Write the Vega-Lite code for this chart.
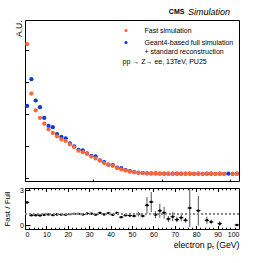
{
  "$schema": "https://vega.github.io/schema/vega-lite/v6.json",
  "padding": {"left": 3, "top": 7, "right": 0, "bottom": 0},
  "spacing": 3,
  "background": "white",
  "config": {
    "view": {"stroke": "black", "strokeWidth": 1},
    "font": "Liberation Sans",
    "axis": {"domain": false, "grid": false, "tickColor": "black", "tickWidth": 1, "labelColor": "black", "titleColor": "black", "labelFont": "Liberation Sans", "titleFont": "Liberation Sans", "titleFontWeight": "normal", "labelOverlap": false}
  },
  "datasets": {
    "main": [
      {"pt": 1, "sim": "Geant4-based full simulation", "y": 4.27},
      {"pt": 3, "sim": "Geant4-based full simulation", "y": 5.94},
      {"pt": 5, "sim": "Geant4-based full simulation", "y": 4.61},
      {"pt": 7, "sim": "Geant4-based full simulation", "y": 4.19},
      {"pt": 9, "sim": "Geant4-based full simulation", "y": 3.52},
      {"pt": 11, "sim": "Geant4-based full simulation", "y": 3.02},
      {"pt": 13, "sim": "Geant4-based full simulation", "y": 2.94},
      {"pt": 15, "sim": "Geant4-based full simulation", "y": 2.51},
      {"pt": 17, "sim": "Geant4-based full simulation", "y": 2.33},
      {"pt": 19, "sim": "Geant4-based full simulation", "y": 2.25},
      {"pt": 21, "sim": "Geant4-based full simulation", "y": 1.93},
      {"pt": 23, "sim": "Geant4-based full simulation", "y": 1.74},
      {"pt": 25, "sim": "Geant4-based full simulation", "y": 1.53},
      {"pt": 27, "sim": "Geant4-based full simulation", "y": 1.5},
      {"pt": 29, "sim": "Geant4-based full simulation", "y": 1.3},
      {"pt": 31, "sim": "Geant4-based full simulation", "y": 1.15},
      {"pt": 33, "sim": "Geant4-based full simulation", "y": 1.12},
      {"pt": 35, "sim": "Geant4-based full simulation", "y": 0.87},
      {"pt": 37, "sim": "Geant4-based full simulation", "y": 0.76},
      {"pt": 39, "sim": "Geant4-based full simulation", "y": 0.6},
      {"pt": 41, "sim": "Geant4-based full simulation", "y": 0.58},
      {"pt": 43, "sim": "Geant4-based full simulation", "y": 0.42},
      {"pt": 45, "sim": "Geant4-based full simulation", "y": 0.38},
      {"pt": 47, "sim": "Geant4-based full simulation", "y": 0.26},
      {"pt": 49, "sim": "Geant4-based full simulation", "y": 0.19},
      {"pt": 51, "sim": "Geant4-based full simulation", "y": 0.14},
      {"pt": 53, "sim": "Geant4-based full simulation", "y": 0.1},
      {"pt": 55, "sim": "Geant4-based full simulation", "y": 0.08},
      {"pt": 57, "sim": "Geant4-based full simulation", "y": 0.06},
      {"pt": 59, "sim": "Geant4-based full simulation", "y": 0.05},
      {"pt": 61, "sim": "Geant4-based full simulation", "y": 0.05},
      {"pt": 63, "sim": "Geant4-based full simulation", "y": 0.045},
      {"pt": 65, "sim": "Geant4-based full simulation", "y": 0.04},
      {"pt": 67, "sim": "Geant4-based full simulation", "y": 0.04},
      {"pt": 69, "sim": "Geant4-based full simulation", "y": 0.04},
      {"pt": 71, "sim": "Geant4-based full simulation", "y": 0.04},
      {"pt": 73, "sim": "Geant4-based full simulation", "y": 0.035},
      {"pt": 75, "sim": "Geant4-based full simulation", "y": 0.035},
      {"pt": 77, "sim": "Geant4-based full simulation", "y": 0.035},
      {"pt": 79, "sim": "Geant4-based full simulation", "y": 0.03},
      {"pt": 81, "sim": "Geant4-based full simulation", "y": 0.035},
      {"pt": 83, "sim": "Geant4-based full simulation", "y": 0.03},
      {"pt": 85, "sim": "Geant4-based full simulation", "y": 0.035},
      {"pt": 87, "sim": "Geant4-based full simulation", "y": 0.035},
      {"pt": 89, "sim": "Geant4-based full simulation", "y": 0.03},
      {"pt": 91, "sim": "Geant4-based full simulation", "y": 0.035},
      {"pt": 93, "sim": "Geant4-based full simulation", "y": 0.03},
      {"pt": 95, "sim": "Geant4-based full simulation", "y": 0.04},
      {"pt": 97, "sim": "Geant4-based full simulation", "y": 0.03},
      {"pt": 99, "sim": "Geant4-based full simulation", "y": 0.035},
      {"pt": 1, "sim": "Fast simulation", "y": 8.14},
      {"pt": 3, "sim": "Fast simulation", "y": 5.04},
      {"pt": 5, "sim": "Fast simulation", "y": 4.0},
      {"pt": 7, "sim": "Fast simulation", "y": 3.52},
      {"pt": 9, "sim": "Fast simulation", "y": 3.16},
      {"pt": 11, "sim": "Fast simulation", "y": 2.81},
      {"pt": 13, "sim": "Fast simulation", "y": 2.58},
      {"pt": 15, "sim": "Fast simulation", "y": 2.37},
      {"pt": 17, "sim": "Fast simulation", "y": 2.18},
      {"pt": 19, "sim": "Fast simulation", "y": 2.08},
      {"pt": 21, "sim": "Fast simulation", "y": 1.87},
      {"pt": 23, "sim": "Fast simulation", "y": 1.7},
      {"pt": 25, "sim": "Fast simulation", "y": 1.47},
      {"pt": 27, "sim": "Fast simulation", "y": 1.38},
      {"pt": 29, "sim": "Fast simulation", "y": 1.28},
      {"pt": 31, "sim": "Fast simulation", "y": 1.11},
      {"pt": 33, "sim": "Fast simulation", "y": 0.99},
      {"pt": 35, "sim": "Fast simulation", "y": 0.86},
      {"pt": 37, "sim": "Fast simulation", "y": 0.7},
      {"pt": 39, "sim": "Fast simulation", "y": 0.61},
      {"pt": 41, "sim": "Fast simulation", "y": 0.52},
      {"pt": 43, "sim": "Fast simulation", "y": 0.39},
      {"pt": 45, "sim": "Fast simulation", "y": 0.3},
      {"pt": 47, "sim": "Fast simulation", "y": 0.23},
      {"pt": 49, "sim": "Fast simulation", "y": 0.16},
      {"pt": 51, "sim": "Fast simulation", "y": 0.12},
      {"pt": 53, "sim": "Fast simulation", "y": 0.095},
      {"pt": 55, "sim": "Fast simulation", "y": 0.07},
      {"pt": 57, "sim": "Fast simulation", "y": 0.06},
      {"pt": 59, "sim": "Fast simulation", "y": 0.055},
      {"pt": 61, "sim": "Fast simulation", "y": 0.05},
      {"pt": 63, "sim": "Fast simulation", "y": 0.045},
      {"pt": 65, "sim": "Fast simulation", "y": 0.04},
      {"pt": 67, "sim": "Fast simulation", "y": 0.035},
      {"pt": 69, "sim": "Fast simulation", "y": 0.035},
      {"pt": 71, "sim": "Fast simulation", "y": 0.03},
      {"pt": 73, "sim": "Fast simulation", "y": 0.03},
      {"pt": 75, "sim": "Fast simulation", "y": 0.03},
      {"pt": 77, "sim": "Fast simulation", "y": 0.035},
      {"pt": 79, "sim": "Fast simulation", "y": 0.03},
      {"pt": 81, "sim": "Fast simulation", "y": 0.035},
      {"pt": 83, "sim": "Fast simulation", "y": 0.03},
      {"pt": 85, "sim": "Fast simulation", "y": 0.03},
      {"pt": 87, "sim": "Fast simulation", "y": 0.03},
      {"pt": 89, "sim": "Fast simulation", "y": 0.03},
      {"pt": 91, "sim": "Fast simulation", "y": 0.03},
      {"pt": 93, "sim": "Fast simulation", "y": 0.03},
      {"pt": 97, "sim": "Fast simulation", "y": 0.03},
      {"pt": 99, "sim": "Fast simulation", "y": 0.03}
    ],
    "ratio": [
      {"pt": 1, "lo_pt": 0, "hi_pt": 2, "r": 1.95, "lo": 1.88, "hi": 2.02},
      {"pt": 3, "lo_pt": 2, "hi_pt": 4, "r": 0.86, "lo": 0.83, "hi": 0.89},
      {"pt": 5, "lo_pt": 4, "hi_pt": 6, "r": 0.86, "lo": 0.83, "hi": 0.89},
      {"pt": 7, "lo_pt": 6, "hi_pt": 8, "r": 0.84, "lo": 0.81, "hi": 0.87},
      {"pt": 9, "lo_pt": 8, "hi_pt": 10, "r": 0.9, "lo": 0.87, "hi": 0.93},
      {"pt": 11, "lo_pt": 10, "hi_pt": 12, "r": 0.93, "lo": 0.9, "hi": 0.96},
      {"pt": 13, "lo_pt": 12, "hi_pt": 14, "r": 0.88, "lo": 0.85, "hi": 0.91},
      {"pt": 15, "lo_pt": 14, "hi_pt": 16, "r": 0.93, "lo": 0.9, "hi": 0.96},
      {"pt": 17, "lo_pt": 16, "hi_pt": 18, "r": 0.92, "lo": 0.89, "hi": 0.95},
      {"pt": 19, "lo_pt": 18, "hi_pt": 20, "r": 0.91, "lo": 0.88, "hi": 0.94},
      {"pt": 21, "lo_pt": 20, "hi_pt": 22, "r": 0.96, "lo": 0.92, "hi": 1.0},
      {"pt": 23, "lo_pt": 22, "hi_pt": 24, "r": 0.98, "lo": 0.94, "hi": 1.02},
      {"pt": 25, "lo_pt": 24, "hi_pt": 26, "r": 0.98, "lo": 0.94, "hi": 1.02},
      {"pt": 27, "lo_pt": 26, "hi_pt": 28, "r": 0.93, "lo": 0.89, "hi": 0.97},
      {"pt": 29, "lo_pt": 28, "hi_pt": 30, "r": 1.01, "lo": 0.97, "hi": 1.05},
      {"pt": 31, "lo_pt": 30, "hi_pt": 32, "r": 1.0, "lo": 0.96, "hi": 1.04},
      {"pt": 33, "lo_pt": 32, "hi_pt": 34, "r": 0.91, "lo": 0.87, "hi": 0.95},
      {"pt": 35, "lo_pt": 34, "hi_pt": 36, "r": 1.06, "lo": 1.01, "hi": 1.11},
      {"pt": 37, "lo_pt": 36, "hi_pt": 38, "r": 0.93, "lo": 0.88, "hi": 0.98},
      {"pt": 39, "lo_pt": 38, "hi_pt": 40, "r": 1.04, "lo": 0.99, "hi": 1.09},
      {"pt": 41, "lo_pt": 40, "hi_pt": 42, "r": 0.9, "lo": 0.85, "hi": 0.95},
      {"pt": 43, "lo_pt": 42, "hi_pt": 44, "r": 1.06, "lo": 1.0, "hi": 1.12},
      {"pt": 45, "lo_pt": 44, "hi_pt": 46, "r": 0.7, "lo": 0.63, "hi": 0.77},
      {"pt": 47, "lo_pt": 46, "hi_pt": 48, "r": 0.86, "lo": 0.78, "hi": 0.94},
      {"pt": 49, "lo_pt": 48, "hi_pt": 50, "r": 0.84, "lo": 0.75, "hi": 0.93},
      {"pt": 51, "lo_pt": 50, "hi_pt": 52, "r": 0.8, "lo": 0.7, "hi": 0.9},
      {"pt": 53, "lo_pt": 52, "hi_pt": 54, "r": 0.97, "lo": 0.77, "hi": 1.17},
      {"pt": 55, "lo_pt": 54, "hi_pt": 56, "r": 0.8, "lo": 0.68, "hi": 0.92},
      {"pt": 57, "lo_pt": 56, "hi_pt": 58, "r": 1.71, "lo": 1.0, "hi": 2.41},
      {"pt": 59, "lo_pt": 58, "hi_pt": 60, "r": 1.99, "lo": 1.14, "hi": 2.83},
      {"pt": 61, "lo_pt": 60, "hi_pt": 62, "r": 0.91, "lo": 0.62, "hi": 1.2},
      {"pt": 63, "lo_pt": 62, "hi_pt": 64, "r": 1.25, "lo": 0.66, "hi": 1.84},
      {"pt": 65, "lo_pt": 64, "hi_pt": 66, "r": 1.08, "lo": 0.58, "hi": 1.58},
      {"pt": 67, "lo_pt": 66, "hi_pt": 68, "r": 0.55, "lo": 0.3, "hi": 0.8},
      {"pt": 69, "lo_pt": 68, "hi_pt": 70, "r": 0.74, "lo": 0.36, "hi": 1.12},
      {"pt": 71, "lo_pt": 70, "hi_pt": 72, "r": 0.49, "lo": 0.26, "hi": 0.74},
      {"pt": 73, "lo_pt": 72, "hi_pt": 74, "r": 0.66, "lo": 0.36, "hi": 0.96},
      {"pt": 75, "lo_pt": 74, "hi_pt": 76, "r": 0.44, "lo": 0.24, "hi": 0.64},
      {"pt": 77, "lo_pt": 76, "hi_pt": 78, "r": 1.48, "lo": -0.12, "hi": 3.08},
      {"pt": 81, "lo_pt": 80, "hi_pt": 82, "r": 1.25, "lo": -0.02, "hi": 2.5},
      {"pt": 85, "lo_pt": 84, "hi_pt": 86, "r": 0.44, "lo": 0.14, "hi": 0.74},
      {"pt": 87, "lo_pt": 86, "hi_pt": 88, "r": 0.3, "lo": 0.1, "hi": 0.5},
      {"pt": 91, "lo_pt": 90, "hi_pt": 92, "r": 0.15, "lo": -0.05, "hi": 0.35},
      {"pt": 99, "lo_pt": 98, "hi_pt": 100, "r": 0.04, "lo": -0.04, "hi": 0.12}
    ]
  },
  "vconcat": [
    {
      "width": 214,
      "height": 161,
      "layer": [
        {
          "data": {"name": "main"},
          "mark": {"type": "point", "filled": true, "opacity": 1, "size": 18, "shape": "circle"},
          "encoding": {
            "x": {"field": "pt", "type": "quantitative", "scale": {"domain": [0, 100], "nice": false, "zero": false},
              "axis": {"orient": "bottom", "values": [0,2,4,6,8,10,12,14,16,18,20,22,24,26,28,30,32,34,36,38,40,42,44,46,48,50,52,54,56,58,60,62,64,66,68,70,72,74,76,78,80,82,84,86,88,90,92,94,96,98,100], "labels": false, "title": null,
                "tickSize": {"condition": {"test": "datum.value % 10 === 0", "value": -4}, "value": -2}}},
            "y": {"field": "y", "type": "quantitative", "scale": {"domain": [-0.42, 9.64], "nice": false, "zero": false},
              "axis": {"values": [-0.25,0,0.25,0.5,0.75,1,1.25,1.5,1.75,2,2.25,2.5,2.75,3,3.25,3.5,3.75,4,4.25,4.5,4.75,5,5.25,5.5,5.75,6,6.25,6.5,6.75,7,7.25,7.5,7.75,8,8.25,8.5,8.75,9,9.25,9.5], "labels": false,
                "title": "A.U.", "titleAnchor": "end", "titleFontSize": 8.5, "titlePadding": 1,
                "tickSize": {"condition": {"test": "datum.value % 1 === 0", "value": -7}, "value": -3.5}}},
            "color": {"field": "sim", "type": "nominal",
              "scale": {"domain": ["Fast simulation", "Geant4-based full simulation"], "range": ["#ff6633", "#0a3ad8"]},
              "legend": {"orient": "none", "legendX": 97.5, "legendY": 7, "padding": 0,
                "title": "pp → Z→ ee, 13TeV, PU25", "titleOrient": "bottom", "titleAnchor": "start", "titleFontWeight": "normal", "titleFont": "Liberation Sans", "titleFontSize": 7, "titlePadding": 2.5, "titleColor": "black",
                "labelFont": "Liberation Sans", "labelFontSize": 7, "labelColor": "black", "labelOffset": 15, "symbolSize": 10, "symbolType": "circle", "symbolStrokeWidth": 0, "rowPadding": 4,
                "labelExpr": "datum.label == 'Geant4-based full simulation' ? ['Geant4-based full simulation', '+ standard reconstruction'] : datum.label"}},
            "order": {"field": "sim", "sort": "descending"}
          }
        },
        {
          "data": {"values": [{"t": "CMS"}]},
          "mark": {"type": "text", "fontWeight": "bold", "fontSize": 7, "align": "right", "baseline": "middle", "color": "black"},
          "encoding": {"x": {"datum": 74.5}, "y": {"datum": 10.14}, "text": {"field": "t"}}
        },
        {
          "data": {"values": [{"t": "Simulation"}]},
          "mark": {"type": "text", "fontStyle": "italic", "fontSize": 9, "align": "right", "baseline": "middle", "color": "black"},
          "encoding": {"x": {"datum": 95.8}, "y": {"datum": 10.14}, "text": {"field": "t"}}
        }
      ]
    },
    {
      "width": 214,
      "height": 41,
      "data": {"name": "ratio"},
      "layer": [
        {
          "mark": {"type": "rule", "color": "#555", "strokeWidth": 1, "clip": true},
          "encoding": {
            "x": {"field": "pt", "type": "quantitative", "scale": {"domain": [0, 100], "nice": false, "zero": false},
              "axis": {"orient": "bottom", "values": [0,2,4,6,8,10,12,14,16,18,20,22,24,26,28,30,32,34,36,38,40,42,44,46,48,50,52,54,56,58,60,62,64,66,68,70,72,74,76,78,80,82,84,86,88,90,92,94,96,98,100],
                "labelExpr": "datum.value % 10 === 0 ? datum.label : ''", "labelFontSize": 7, "labelPadding": 4.5,
                "title": "electron pₜ (GeV)", "titleAnchor": "end", "titleFontSize": 8.7, "titlePadding": 2,
                "tickSize": {"condition": {"test": "datum.value % 10 === 0", "value": -3.5}, "value": -1.8}}},
            "y": {"field": "lo", "type": "quantitative", "scale": {"domain": [-0.3, 3.17], "nice": false, "zero": false},
              "axis": {"values": [0,0.25,0.5,0.75,1,1.25,1.5,1.75,2,2.25,2.5,2.75,3], "format": "d", "labelExpr": "datum.value % 1 === 0 ? datum.label : ''", "labelFontSize": 7, "labelPadding": 6.5,
                "title": "Fast / Full", "titleFontSize": 8, "titlePadding": 8,
                "tickSize": {"condition": {"test": "datum.value % 1 === 0", "value": -5}, "value": -2.5}}},
            "y2": {"field": "hi"}
          }
        },
        {
          "mark": {"type": "rule", "color": "black", "strokeWidth": 1, "clip": true},
          "encoding": {
            "x": {"field": "lo_pt", "type": "quantitative",
              "axis": {"orient": "top", "values": [0,2,4,6,8,10,12,14,16,18,20,22,24,26,28,30,32,34,36,38,40,42,44,46,48,50,52,54,56,58,60,62,64,66,68,70,72,74,76,78,80,82,84,86,88,90,92,94,96,98,100], "labels": false, "title": null,
                "tickSize": {"condition": {"test": "datum.value % 10 === 0", "value": -3.5}, "value": -1.8}}},
            "x2": {"field": "hi_pt"},
            "y": {"field": "r", "type": "quantitative"}
          }
        },
        {
          "mark": {"type": "square", "color": "black", "size": 5, "opacity": 1, "clip": true},
          "encoding": {
            "x": {"field": "pt", "type": "quantitative", "axis": null},
            "y": {"field": "r", "type": "quantitative"}
          }
        },
        {
          "mark": {"type": "rule", "color": "#888", "strokeDash": [2, 2], "strokeWidth": 1},
          "encoding": {"y": {"datum": 1}}
        }
      ],
      "resolve": {"axis": {"x": "independent"}}
    }
  ]
}
